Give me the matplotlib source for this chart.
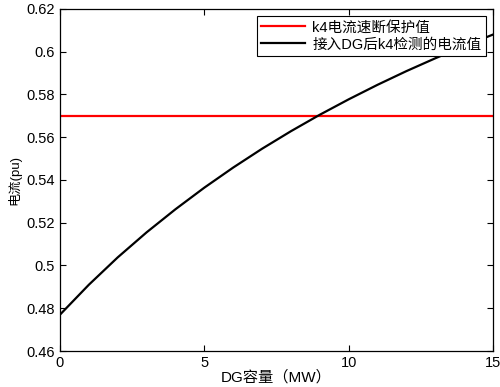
import numpy as np
import matplotlib
matplotlib.use('Agg')
import matplotlib.pyplot as plt
from matplotlib.ticker import FuncFormatter

plt.rcParams['font.family'] = ['Liberation Sans', 'Noto Sans CJK SC']

# DG capacity (MW) and current seen by k4 (pu)
dg_mw = [0, 1, 2, 3, 4, 5, 6, 7, 8, 9, 10, 11, 12, 13, 14, 15]
k4_current = [0.477, 0.491, 0.5038, 0.5155, 0.5263, 0.5364, 0.5458, 0.5546,
              0.5628, 0.5705, 0.5777, 0.5845, 0.5909, 0.5969, 0.6026, 0.608]
k4_setting = 0.57

fig = plt.figure(figsize=(5.0, 3.87), dpi=100)
ax = fig.add_axes([0.12, 0.093, 0.866, 0.884])

ax.axhline(k4_setting, color='#ff0000', lw=1.6, label='k4电流速断保护值')
ax.plot(dg_mw, k4_current, color='black', lw=1.6, label='接入DG后k4检测的电流值')

ax.set_xlim(0, 15)
ax.set_ylim(0.46, 0.62)
ax.set_xticks([0, 5, 10, 15])
ax.set_yticks(np.arange(0.46, 0.6201, 0.02))
ax.yaxis.set_major_formatter(FuncFormatter(lambda v, p: '%g' % round(v, 2)))
ax.tick_params(direction='in', top=True, right=True, length=4, labelsize=10.5)
for s in ax.spines.values():
    s.set_linewidth(0.9)

ax.set_xlabel('DG容量（MW）', fontsize=11, labelpad=0)
ax.set_ylabel('电流(pu)', fontsize=9.5, labelpad=4)

leg = ax.legend(loc='upper right', fontsize=10.5, fancybox=False, edgecolor='black',
                borderpad=0.3, handlelength=3.0, handletextpad=0.5, labelspacing=0.2,
                borderaxespad=0.5, framealpha=1)
leg.get_frame().set_linewidth(0.8)

fig.savefig('out.png', dpi=100)
